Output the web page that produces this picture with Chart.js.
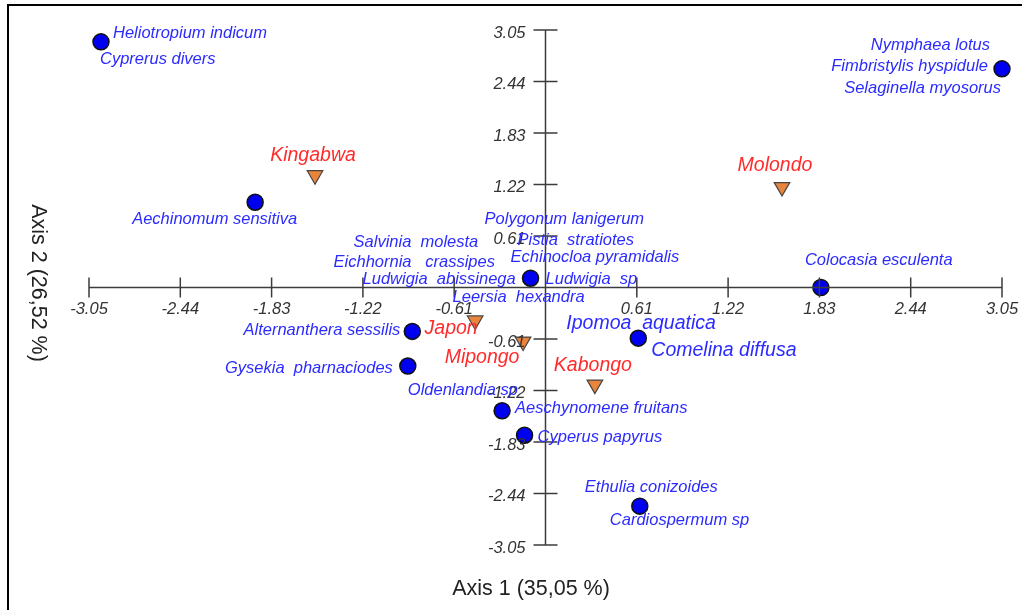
<!DOCTYPE html>
<html>
<head>
<meta charset="utf-8">
<script src="https://cdn.jsdelivr.net/npm/chart.js@4"></script>
<style>
  body { margin: 0; background: #fff; }
  canvas { display: block; }
</style>
</head>
<body>
<canvas id="caChart" width="1022" height="610"></canvas>
<script>
// Species scores (blue circles); each point can carry several names
const speciesNames = [
    ['Heliotropium indicum', 'Cyprerus divers'],
    ['Aechinomum sensitiva'],
    ['Nymphaea lotus', 'Fimbristylis hyspidule', 'Selaginella myosorus'],
    ['Polygonum lanigerum', 'Salvinia  molesta', 'Pistia  stratiotes', 'Eichhornia   crassipes',
     'Echinocloa pyramidalis', 'Ludwigia  abissinega', 'Ludwigia  sp', 'Leersia  hexandra'],
    ['Colocasia esculenta'],
    ['Alternanthera sessilis'],
    ['Gysekia  pharnaciodes', 'Oldenlandia sp'],
    ['Aeschynomene fruitans'],
    ['Cyperus papyrus'],
    ['Ipomoa  aquatica', 'Comelina diffusa'],
    ['Ethulia conizoides', 'Cardiospermum sp']
];
const speciesX = [-2.97, -1.94, 3.05, -0.10, 1.84, -0.89, -0.92, -0.29, -0.14, 0.62, 0.63];
const speciesY = [2.91, 1.01, 2.59, 0.11, 0.00, -0.52, -0.93, -1.46, -1.75, -0.60, -2.59];

// Site scores (orange triangles)
const siteNames = ['Kingabwa', 'Molondo', 'Japon', 'Mipongo', 'Kabongo'];
const siteX = [-1.54, 1.58, -0.47, -0.15, 0.33];
const siteY = [1.33, 1.19, -0.39, -0.64, -1.15];

// Axis ticks and titles
const tickValues = [-3.05, -2.44, -1.83, -1.22, -0.61, 0, 0.61, 1.22, 1.83, 2.44, 3.05];
const tickLabels = ['-3.05', '-2.44', '-1.83', '-1.22', '-0.61', '', '0.61', '1.22', '1.83', '2.44', '3.05'];
const xTitle = 'Axis 1 (35,05 %)';
const yTitle = 'Axis 2 (26,52 %)';

// label placement (pixel offsets from the point), same shape as speciesNames
const speciesLabelPos = [
    [{dx: 12, dy: -8, a: 'left'}, {dx: -1, dy: 18, a: 'left'}],
    [{dx: -123, dy: 17, a: 'left'}],
    [{dx: -12, dy: -23, a: 'right'}, {dx: -14, dy: -2, a: 'right'}, {dx: -1, dy: 20, a: 'right'}],
    [{dx: -46, dy: -59, a: 'left'}, {dx: -177, dy: -36, a: 'left'}, {dx: -13, dy: -38, a: 'left'},
     {dx: -197, dy: -16, a: 'left'}, {dx: -20, dy: -21, a: 'left'}, {dx: -168, dy: 1, a: 'left'},
     {dx: 15, dy: 1, a: 'left'}, {dx: -78, dy: 19, a: 'left'}],
    [{dx: -16, dy: -27, a: 'left'}],
    [{dx: -12, dy: -1, a: 'right'}],
    [{dx: -15, dy: 2, a: 'right'}, {dx: 0, dy: 24, a: 'left'}],
    [{dx: 13, dy: -2, a: 'left'}],
    [{dx: 13, dy: 2, a: 'left'}],
    [{dx: -72, dy: -15, a: 'left', big: true}, {dx: 13, dy: 12, a: 'left', big: true}],
    [{dx: -55, dy: -19, a: 'left'}, {dx: -30, dy: 14, a: 'left'}]
];
const siteLabelPos = [
    {dx: -2, dy: -20}, {dx: -7, dy: -21}, {dx: -24, dy: 8}, {dx: -41, dy: 16}, {dx: -2, dy: -19}
];

const FONT = '"Liberation Sans", Arial, sans-serif';

// axes crossing at the origin, labels and the frame
const ordination = {
    id: 'ordination',
    afterDatasetsDraw(chart) {
        const ctx = chart.ctx;
        const xs = chart.scales.x, ys = chart.scales.y;
        const x0 = xs.getPixelForValue(0), y0 = ys.getPixelForValue(0);
        const first = tickValues[0], last = tickValues[tickValues.length - 1];

        ctx.save();
        ctx.strokeStyle = '#3c3c3c';
        ctx.lineWidth = 1.5;
        ctx.beginPath();
        ctx.moveTo(xs.getPixelForValue(first), y0);
        ctx.lineTo(xs.getPixelForValue(last), y0);
        ctx.moveTo(x0, ys.getPixelForValue(last));
        ctx.lineTo(x0, ys.getPixelForValue(first));
        tickValues.forEach(v => {
            const px = xs.getPixelForValue(v), py = ys.getPixelForValue(v);
            ctx.moveTo(px, y0 - 10); ctx.lineTo(px, y0 + 10);
            ctx.moveTo(x0 - 12, py); ctx.lineTo(x0 + 12, py);
        });
        ctx.stroke();

        // tick labels
        ctx.fillStyle = '#333';
        ctx.font = 'italic 16.5px ' + FONT;
        ctx.textBaseline = 'middle';
        tickValues.forEach((v, i) => {
            if (!tickLabels[i]) return;
            ctx.textAlign = 'center';
            ctx.fillText(tickLabels[i], xs.getPixelForValue(v), y0 + 22);
            ctx.textAlign = 'right';
            ctx.fillText(tickLabels[i], x0 - 20, ys.getPixelForValue(v) + 3);
        });

        // species names
        ctx.fillStyle = '#2b2bff';
        speciesNames.forEach((names, i) => {
            const px = xs.getPixelForValue(speciesX[i]);
            const py = ys.getPixelForValue(speciesY[i]);
            names.forEach((name, j) => {
                const p = speciesLabelPos[i][j];
                ctx.font = 'italic ' + (p.big ? '19.5px ' : '16.5px ') + FONT;
                ctx.textAlign = p.a;
                ctx.fillText(name, px + p.dx, py + p.dy);
            });
        });

        // site names
        ctx.fillStyle = '#ff2b2b';
        ctx.font = 'italic 19.5px ' + FONT;
        ctx.textAlign = 'center';
        siteNames.forEach((name, i) => {
            const p = siteLabelPos[i];
            ctx.fillText(name, xs.getPixelForValue(siteX[i]) + p.dx, ys.getPixelForValue(siteY[i]) + p.dy);
        });

        // axis titles
        ctx.fillStyle = '#222';
        ctx.font = '21.5px ' + FONT;
        ctx.textAlign = 'center';
        ctx.fillText(xTitle, 531, 589);
        ctx.translate(38, 283);
        ctx.rotate(Math.PI / 2);
        ctx.fillText(yTitle, 0, 0);
        ctx.restore();

        // frame (only top and left edges are inside the picture)
        ctx.save();
        ctx.strokeStyle = '#000';
        ctx.lineWidth = 2;
        ctx.strokeRect(8, 5, 1100, 700);
        ctx.restore();
    }
};

const ctx = document.getElementById('caChart').getContext('2d');
new Chart(ctx, {
    type: 'scatter',
    data: {
        datasets: [{
            label: 'Species',
            data: speciesX.map((x, i) => ({x: x, y: speciesY[i]})),
            backgroundColor: '#0000f0',
            borderColor: '#111',
            borderWidth: 1.5,
            pointRadius: 8,
            pointHoverRadius: 8
        }, {
            label: 'Sites',
            data: siteX.map((x, i) => ({x: x, y: siteY[i]})),
            pointStyle: 'triangle',
            rotation: 180,
            backgroundColor: '#e8843c',
            borderColor: '#444',
            borderWidth: 1.2,
            pointRadius: 9,
            pointHoverRadius: 9
        }]
    },
    options: {
        responsive: false,
        animation: false,
        clip: false,
        layout: { padding: { left: 89, right: 20, top: 30, bottom: 65 } },
        scales: {
            x: { display: false, min: -3.05, max: 3.05 },
            y: { display: false, min: -3.05, max: 3.05 }
        },
        plugins: {
            legend: { display: false },
            tooltip: { enabled: false }
        }
    },
    plugins: [ordination]
});
</script>
</body>
</html>
